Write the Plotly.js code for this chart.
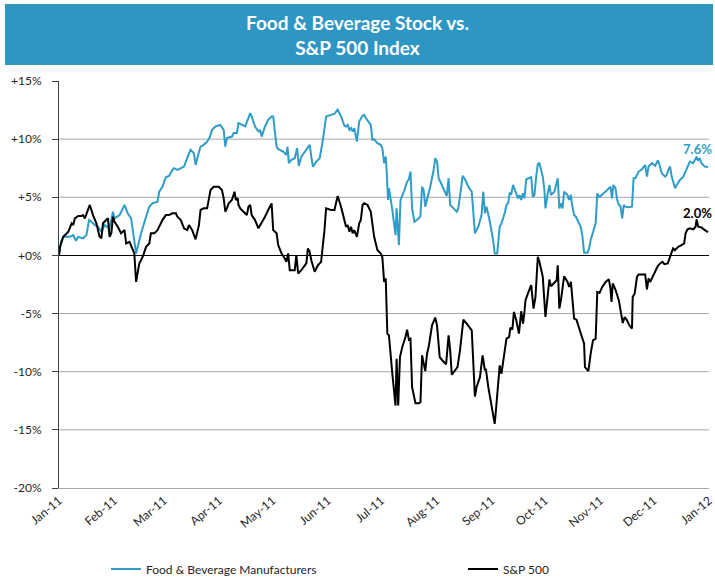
<!DOCTYPE html>
<html>
<head>
<meta charset="utf-8">
<script src="https://cdn.plot.ly/plotly-3.0.1.min.js"></script>
<style>html,body{margin:0;padding:0;background:#fff;}#chart{width:715px;height:578px;}</style>
</head>
<body>
<div id="chart"></div>
<script>
// Day of year 2011 (0 = Jan 1, 2011) and cumulative % change
const fbDays = [0,1.1,2.4,6.1,8.0,9.5,10.8,13.5,15.4,16.9,18.2,20.1,21.9,23.8,25.6,28.4,30.3,31.2,34.0,35.8,36.8,38.6,40.5,43.3,46.1,48.9,50.7,52.5,55.3,56.3,58.1,60.0,61.8,63.7,64.6,66.5,68.4,70.2,72.0,73.9,75.8,76.7,78.2,79.5,81.3,83.2,84.5,86.0,87.9,90.6,92.5,93.4,94.3,97.1,98.1,99.9,100.8,102.7,104.6,107.4,108.2,110.1,112.0,112.9,113.8,115.7,117.5,119.4,120.3,122.2,123.1,125.9,127.7,128.3,129.1,130.5,132.4,133.7,134.7,136.1,138.9,140.8,141.7,142.6,144.5,146.4,148.2,150.0,152.8,154.7,156.5,158.4,160.3,161.2,162.1,163.1,164.0,164.9,165.8,167.3,168.6,170.5,171.4,172.3,175.1,176.0,177.0,178.8,180.7,181.6,182.6,183.5,184.0,184.8,185.3,186.2,187.2,189.0,189.6,190.9,191.8,193.7,195.5,196.5,197.4,198.3,199.6,202.1,203.0,203.9,204.8,205.7,206.7,208.5,210.4,211.3,212.3,213.2,215.0,216.9,217.8,218.8,219.7,221.6,223.4,224.3,226.2,226.7,228.0,229.9,231.8,232.7,233.6,235.5,237.3,238.3,239.2,240.1,242.0,243.8,244.7,246.1,247.5,248.5,250.3,251.3,252.2,253.1,254.0,255.0,255.9,256.8,257.8,258.7,259.6,260.6,261.4,262.4,264.2,265.2,266.1,267.0,268.0,268.9,269.8,270.8,271.7,272.6,273.2,274.5,275.4,276.3,278.2,280.1,281.0,281.9,282.8,283.7,285.6,286.5,287.5,288.0,289.3,290.3,291.8,293.0,294.0,294.9,296.8,297.7,298.6,299.6,301.4,302.3,303.2,304.2,306.0,307.9,309.7,310.6,311.3,312.5,313.5,314.4,315.3,316.3,317.2,318.1,319.9,321.8,322.7,323.7,325.5,327.4,329.2,330.2,331.1,333.0,334.8,336.3,337.0,338.5,340.4,341.3,342.2,343.2,344.1,346.0,346.9,348.7,350.6,352.5,354.3,356.2,357.1,358.1,358.9,359.9,360.8,362.7,364.5];
const fbValues = [0,1.17,1.60,1.60,1.75,1.26,1.60,1.47,1.75,3.04,2.90,2.61,2.47,2.03,2.61,2.33,3.76,3.19,3.47,4.05,4.34,3.62,3.19,0.17,1.90,3.33,4.19,4.48,4.62,5.48,5.91,6.72,6.84,7.35,7.50,7.35,7.50,7.64,8.36,9.08,8.79,7.78,8.65,9.36,9.51,9.79,10.09,10.80,11.09,11.23,10.80,9.36,10.09,10.22,10.52,10.52,11.38,11.23,11.09,12.24,11.95,11.09,10.66,10.80,10.22,11.09,11.66,11.95,11.95,9.36,9.14,8.93,8.65,9.36,7.93,8.22,8.36,9.22,7.70,8.50,9.08,9.51,8.50,7.64,8.07,8.36,9.94,11.95,12.09,12.18,12.53,11.95,11.15,11.09,11.23,10.80,10.95,10.66,10.95,9.79,11.52,12.01,12.09,11.81,11.23,9.94,10.00,9.66,9.51,9.22,7.93,8.50,7.35,4.77,5.78,5.05,3.91,1.75,4.05,0.89,4.77,5.48,6.34,6.55,7.21,4.05,2.90,3.19,3.39,5.91,5.63,4.19,4.77,5.91,7.35,8.36,8.07,6.64,6.06,5.48,5.11,6.64,4.34,4.05,3.76,4.05,6.34,6.84,6.55,5.91,5.48,3.91,1.90,2.47,3.47,5.48,3.62,4.19,2.90,1.32,0.17,0.17,2.47,2.76,3.62,4.34,4.48,5.34,5.28,6.06,5.63,5.34,4.91,5.20,4.77,5.34,4.91,6.55,6.64,6.72,5.05,5.20,6.78,7.87,7.93,7.35,6.78,5.63,4.05,5.34,6.06,5.20,5.48,6.64,4.05,4.48,4.05,5.48,5.20,4.77,5.20,4.48,3.47,3.33,2.76,2.47,1.60,0.22,0.22,0.60,1.32,1.90,2.76,5.34,5.05,5.11,5.34,5.63,5.91,4.91,6.06,5.78,4.77,4.34,4.25,3.19,4.34,4.19,4.14,4.19,6.64,6.64,7.21,7.41,7.78,6.78,7.64,7.93,7.70,8.16,7.93,7.07,6.78,6.92,7.35,7.64,6.78,5.78,6.06,6.49,6.78,7.50,8.07,7.93,8.22,8.50,8.16,8.36,7.93,7.64,7.60];

const spDays = [0,0.6,2.4,5.2,7.1,8.0,8.9,10.8,12.6,13.5,14.5,16.3,17.3,19.1,21.0,22.8,23.8,24.7,26.6,27.5,28.4,29.4,30.3,31.2,33.0,34.9,36.8,37.7,39.6,41.4,42.3,43.3,44.2,45.1,47.0,48.9,50.7,51.6,53.5,55.3,58.1,60.0,61.8,63.7,65.6,66.5,68.4,70.2,72.0,73.0,74.8,76.7,78.6,79.5,81.3,83.2,85.1,86.9,89.7,91.5,92.5,93.4,94.3,95.3,97.1,98.6,99.3,100.4,100.8,101.8,103.6,105.5,106.4,107.4,108.2,110.1,112.0,113.8,115.7,117.5,119.4,120.3,122.2,123.1,125.0,126.8,127.7,128.7,129.6,132.4,133.3,134.3,136.1,138.9,139.8,140.8,141.7,143.6,145.4,147.2,148.2,149.1,150.0,152.8,154.7,156.5,158.4,160.3,161.2,162.1,163.1,164.0,164.9,165.8,167.3,168.6,169.5,170.5,171.4,173.3,175.1,177.0,178.8,180.7,181.6,182.6,183.5,184.4,185.3,187.2,189.0,189.6,190.5,191.5,192.8,194.6,195.5,196.5,197.4,198.3,200.2,202.1,203.0,203.9,204.8,205.7,206.7,207.6,209.5,211.3,212.3,213.8,215.0,217.4,218.8,219.7,220.6,222.5,223.8,225.2,227.1,229.0,231.8,233.6,234.5,236.4,237.9,239.2,239.7,241.1,242.9,244.7,245.7,247.5,248.5,249.4,251.3,252.8,253.5,254.6,255.5,256.8,258.3,259.6,260.6,261.4,262.0,263.3,265.2,266.5,267.6,268.9,269.8,271.7,273.2,274.5,275.4,276.3,278.2,279.5,280.1,281.0,281.9,283.7,285.6,286.5,287.5,288.4,289.3,290.6,292.1,294.0,294.9,295.4,297.3,298.6,299.9,301.4,302.3,303.6,305.1,307.0,308.8,309.7,310.3,311.0,312.5,314.4,315.9,316.6,317.7,319.0,320.3,321.8,322.2,323.3,324.6,325.5,328.3,329.2,330.2,331.1,332.0,333.3,334.8,336.3,337.6,338.9,340.0,341.9,343.2,344.0,344.9,345.8,347.8,349.6,351.1,351.9,353.0,354.3,356.2,357.5,358.1,359.0,360.8,362.7,364.5];
const spValues = [0,0.74,1.60,2.03,2.76,2.61,3.19,3.39,3.39,3.47,3.19,3.91,4.34,3.47,2.76,1.60,1.47,2.76,3.04,3.19,1.60,1.90,3.33,2.90,2.47,1.90,2.18,1.03,1.17,0.60,0.17,-2.28,-1.41,-0.69,-0.12,0.74,1.03,1.90,1.90,2.18,3.04,3.47,3.47,3.62,3.62,3.33,3.04,2.33,2.18,2.61,2.18,1.38,2.61,3.91,4.05,4.05,5.63,5.91,5.91,5.63,4.91,3.76,4.05,4.48,4.77,5.48,4.77,4.91,4.34,4.05,3.76,3.47,4.19,4.34,3.47,3.04,2.33,2.76,3.33,3.91,4.48,2.18,1.90,0.89,0.17,-0.26,-0.55,0.17,-1.27,-1.27,0.03,-1.55,-1.27,-0.69,0.60,0.31,-0.41,-1.41,-0.84,-0.55,0.74,2.18,4.05,3.91,3.91,5.11,4.19,3.04,2.47,2.61,2.03,2.47,1.90,2.18,1.60,2.76,3.04,4.34,4.48,4.34,3.76,1.60,0.46,0.17,-0.15,-2.28,-1.98,-6.72,-6.87,-10.17,-12.91,-8.88,-12.91,-8.74,-7.88,-7.02,-6.38,-7.24,-7.16,-11.33,-12.71,-12.71,-12.62,-8.59,-9.31,-9.95,-8.45,-7.88,-6.01,-5.34,-6.01,-8.74,-8.97,-9.37,-6.87,-8.16,-10.26,-9.89,-9.60,-8.16,-5.52,-5.86,-6.44,-12.13,-11.33,-10.47,-8.59,-9.89,-9.74,-11.33,-12.76,-14.48,-12.76,-9.46,-10.17,-9.31,-7.16,-7.02,-6.21,-6.38,-4.86,-5.58,-6.72,-4.80,-5.86,-4.86,-3.85,-3.28,-2.56,-4.57,-3.57,-0.12,-0.55,-1.84,-5.29,-3.42,-2.07,-2.65,-2.36,-2.13,-0.84,-4.57,-3.85,-1.78,-2.28,-2.71,-2.28,-3.85,-5.43,-5.52,-6.29,-7.30,-7.59,-9.60,-9.95,-8.45,-7.30,-7.16,-3.14,-3.22,-2.71,-2.28,-2.04,-2.84,-4.00,-2.41,-2.93,-3.85,-5.29,-5.81,-5.29,-5.58,-6.01,-6.29,-3.57,-3.28,-1.84,-1.64,-1.64,-1.64,-2.93,-1.98,-2.28,-1.84,-1.41,-0.92,-0.69,-0.55,-0.75,-0.69,-0.10,0.17,0.60,0.45,0.74,0.89,1.03,1.90,2.24,2.33,2.24,2.47,3.10,2.47,2.41,2.18,2.00];

const seriesNames = ['Food & Beverage Manufacturers', 'S&P 500'];
const monthTicks = [0,31,59,90,120,151,181,212,243,273,304,334,365];
const monthLabels = ['Jan-11','Feb-11','Mar-11','Apr-11','May-11','Jun-11','Jul-11','Aug-11','Sep-11','Oct-11','Nov-11','Dec-11','Jan-12'];
const yTicks = [-20,-15,-10,-5,0,5,10,15];
const yLabels = ['-20%','-15%','-10%','-5%','+0%','+5%','+10%','+15%'];

const BLUE = '#2f9dc8';
const FONT = 'Lato, "Open Sans", sans-serif';

const traces = [
  {x: fbDays, y: fbValues, name: seriesNames[0], type: 'scatter', mode: 'lines',
   line: {color: BLUE, width: 2}, legend: 'legend'},
  {x: spDays, y: spValues, name: seriesNames[1], type: 'scatter', mode: 'lines',
   line: {color: '#000000', width: 2}, legend: 'legend2'}
];

const shapes = [
  {type: 'rect', xref: 'paper', yref: 'paper', x0: -0.0831, x1: 1.0062, y0: 1.0393, y1: 1.1892,
   fillcolor: '#2e96c2', line: {width: 0}, layer: 'above'}
];
yTicks.filter(v => v !== 0 && v !== yTicks[0] && v !== yTicks[yTicks.length-1]).forEach(v => {
  shapes.push({type: 'line', xref: 'paper', yref: 'y', x0: 0, x1: 1, y0: v, y1: v,
    line: {color: '#a6a6a6', width: 1}, layer: 'below'});
});

const lastFb = fbValues[fbValues.length-1];
const lastSp = spValues[spValues.length-1];

const legendBase = {orientation: 'h', xanchor: 'left', y: -0.199, yanchor: 'middle',
  font: {family: FONT, size: 12, color: '#262626'}, itemwidth: 30, bgcolor: 'rgba(0,0,0,0)'};

const layout = {
  width: 715, height: 578,
  margin: {l: 59, r: 6, t: 81, b: 90, autoexpand: false},
  paper_bgcolor: '#ffffff', plot_bgcolor: '#ffffff',
  font: {family: FONT, size: 12, color: '#262626'},
  title: {text: 'Food &amp; Beverage Stock vs.<br>S&amp;P 500 Index', xref: 'container', x: 0.5,
          yref: 'container', y: 0.948, yanchor: 'middle', xanchor: 'center',
          font: {family: FONT, size: 19, color: '#ffffff', weight: 'bold'}},
  xaxis: {range: [0, 365.05], tickmode: 'array', tickvals: monthTicks, ticktext: monthLabels,
          tickangle: -40, showgrid: false, zeroline: false, showline: true, linecolor: '#a6a6a6',
          linewidth: 1, ticks: '', ticklabeloverflow: 'allow',
          tickfont: {family: FONT, size: 12, color: '#262626'}, fixedrange: true, automargin: false},
  yaxis: {range: [-20, 15], tickmode: 'array', tickvals: yTicks, ticktext: yLabels,
          showgrid: false, zeroline: true, zerolinecolor: '#000000', zerolinewidth: 1,
          showline: true, linecolor: '#404040', linewidth: 1, ticks: 'outside', ticklen: 6,
          tickcolor: '#404040', ticklabelstandoff: 8, tickfont: {family: FONT, size: 12, color: '#262626'},
          fixedrange: true, automargin: false},
  shapes: shapes,
  annotations: [
    {x: 1, xref: 'paper', xanchor: 'right', y: lastFb, yref: 'y', xshift: 5, yshift: 18, showarrow: false,
     text: lastFb.toFixed(1) + '%', font: {family: FONT, size: 13, color: BLUE, weight: 'bold'}},
    {x: 1, xref: 'paper', xanchor: 'right', y: lastSp, yref: 'y', xshift: 5, yshift: 19, showarrow: false,
     text: lastSp.toFixed(1) + '%', font: {family: FONT, size: 13, color: '#000000', weight: 'bold'}}
  ],
  showlegend: true,
  legend: Object.assign({}, legendBase, {x: 0.0723}),
  legend2: Object.assign({}, legendBase, {x: 0.6215})
};

Plotly.newPlot('chart', traces, layout, {displayModeBar: false, staticPlot: true});
</script>
</body>
</html>
